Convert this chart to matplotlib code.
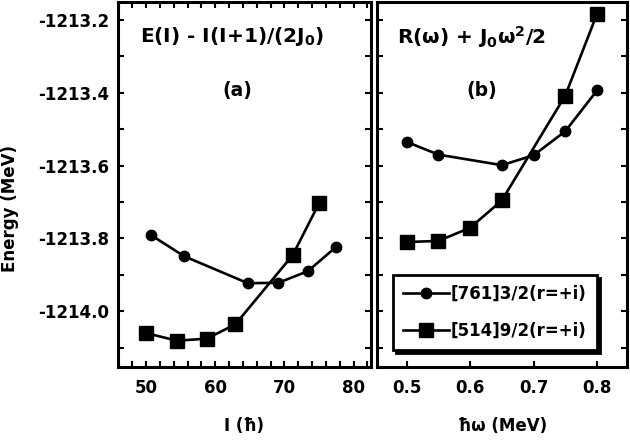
import matplotlib
matplotlib.use("Agg")
import matplotlib.pyplot as plt
from matplotlib.ticker import MultipleLocator

plt.rcParams["font.family"] = ["DejaVu Sans"]
plt.rcParams["font.weight"] = "bold"
plt.rcParams["mathtext.default"] = "bf"

# panel (a): E(I) - I(I+1)/(2J0) vs spin
spin_761 = [50.7, 55.5, 64.7, 69.1, 73.4, 77.5]
e_761 = [-1213.791, -1213.849, -1213.923, -1213.922, -1213.890, -1213.823]
spin_514 = [50.0, 54.5, 58.8, 62.9, 71.2, 75.0]
e_514 = [-1214.060, -1214.081, -1214.075, -1214.036, -1213.846, -1213.704]

# panel (b): R(w) + J0 w^2/2 vs rotational frequency
omega_761 = [0.50, 0.55, 0.65, 0.70, 0.75, 0.80]
r_761 = [-1213.535, -1213.570, -1213.599, -1213.572, -1213.506, -1213.394]
omega_514 = [0.50, 0.55, 0.60, 0.65, 0.75, 0.80]
r_514 = [-1213.810, -1213.807, -1213.771, -1213.696, -1213.408, -1213.184]

labels = ["[761]3/2(r=+i)", "[514]9/2(r=+i)"]

fig = plt.figure(figsize=(6.3, 4.43), dpi=100)
ax1 = fig.add_axes([0.187, 0.1716, 0.4016, 0.824])
ax2 = fig.add_axes([0.598, 0.1716, 0.398, 0.824])

line_kw = dict(color="black", linewidth=1.9)
ax1.plot(spin_761, e_761, marker="o", markersize=7.5, **line_kw)
ax1.plot(spin_514, e_514, marker="s", markersize=10, **line_kw)
h1, = ax2.plot(omega_761, r_761, marker="o", markersize=7.5, **line_kw)
h2, = ax2.plot(omega_514, r_514, marker="s", markersize=10, **line_kw)

for ax in (ax1, ax2):
    ax.set_ylim(-1214.153, -1213.151)
    ax.yaxis.set_major_locator(MultipleLocator(0.2))
    ax.yaxis.set_minor_locator(MultipleLocator(0.1))
    for s in ax.spines.values():
        s.set_linewidth(2.2)
    ax.tick_params(which="both", direction="in", width=1.5, length=4.5,
                   labelsize=12, left=True, right=True)

ax1.set_xlim(45.9, 82.5)
ax1.xaxis.set_major_locator(MultipleLocator(10))
ax1.xaxis.set_minor_locator(MultipleLocator(2))
ax1.tick_params(which="both", top=True)
ax1.tick_params(axis="x", pad=9)
ax1.tick_params(axis="y", pad=6)
ax1.yaxis.set_major_formatter(matplotlib.ticker.FormatStrFormatter("%.1f"))
ax1.set_xlabel("I (ħ)", fontsize=12, fontweight="bold", labelpad=14)

ax2.set_xlim(0.453, 0.848)
ax2.xaxis.set_major_locator(MultipleLocator(0.1))
ax2.xaxis.set_minor_locator(MultipleLocator(0.1))
ax2.tick_params(axis="x", pad=9)
ax2.tick_params(axis="y", labelleft=False)
ax2.set_xlabel("ħω (MeV)", fontsize=12, fontweight="bold", labelpad=14)

fig.text(0.016, 1 - 208 / 443, "Energy (MeV)", rotation=90, fontsize=12,
         fontweight="bold", ha="center", va="center")

ax1.text(0.087, 0.904, r"E(I) - I(I+1)/(2J$_0$)", transform=ax1.transAxes,
         fontsize=14.5, fontweight="bold", va="center", ha="left")
ax1.text(0.474, 0.757, "(a)", transform=ax1.transAxes,
         fontsize=13.5, fontweight="bold", va="center", ha="center")
ax2.text(0.08, 0.904, r"R(ω) + J$_0$ω$^2$/2", transform=ax2.transAxes,
         fontsize=14.5, fontweight="bold", va="center", ha="left")
ax2.text(0.42, 0.757, "(b)", transform=ax2.transAxes,
         fontsize=13.5, fontweight="bold", va="center", ha="center")

leg = ax2.legend([h1, h2], labels, loc="lower left",
                 bbox_to_anchor=(0.064, 0.047), borderaxespad=0,
                 fontsize=12, handlelength=2.8, handletextpad=0.1,
                 borderpad=0.6, labelspacing=1.15, fancybox=False,
                 framealpha=1, edgecolor="black",
                 shadow={"color": "black", "ox": 2.5, "oy": -2.5, "alpha": 1})
leg.get_frame().set_linewidth(2.0)

fig.savefig("out.png", dpi=100)
